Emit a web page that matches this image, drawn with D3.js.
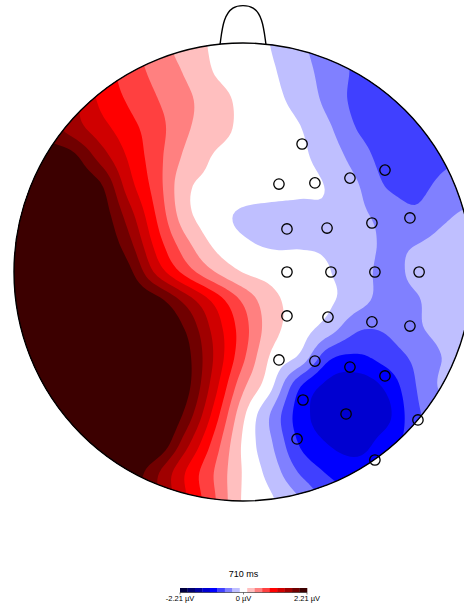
<!DOCTYPE html>
<html>
<head>
<meta charset="utf-8">
<script src="https://cdn.jsdelivr.net/npm/d3@7"></script>
<style>
  body { margin: 0; background: #fff; }
  text { font-family: "Liberation Sans", Arial, sans-serif; fill: #000; }
</style>
</head>
<body>
<script>
// topomap at 710 ms, values in µV
// grid: 17 x 17 points over the head square, rows top -> bottom, cols left -> right
var gridValues = [
  [2.21, 1.92, 1.44, 1.05, 0.75, 0.50, 0.27, 0.09, -0.02, -0.14, -0.35, -0.52, -0.70, -0.78, -0.78, -0.73, -0.65],
  [2.24, 1.96, 1.44, 1.08, 0.79, 0.57, 0.36, 0.12, 0.01, -0.10, -0.29, -0.50, -0.70, -0.81, -0.83, -0.78, -0.68],
  [2.29, 1.98, 1.53, 1.13, 0.88, 0.66, 0.45, 0.24, 0.07, -0.06, -0.22, -0.47, -0.73, -0.83, -0.86, -0.81, -0.70],
  [2.24, 1.90, 1.59, 1.29, 1.01, 0.75, 0.43, 0.23, 0.08, -0.02, -0.12, -0.35, -0.66, -0.78, -0.87, -0.79, -0.70],
  [2.34, 2.18, 2.05, 1.60, 1.14, 0.74, 0.33, 0.11, 0.04, -0.03, -0.09, -0.24, -0.51, -0.75, -0.83, -0.71, -0.62],
  [2.39, 2.29, 2.18, 2.00, 1.30, 0.77, 0.19, 0.08, 0.03, -0.03, -0.08, -0.15, -0.37, -0.66, -0.73, -0.58, -0.52],
  [2.42, 2.37, 2.29, 2.13, 1.56, 0.87, 0.22, -0.02, -0.17, -0.20, -0.19, -0.16, -0.33, -0.47, -0.60, -0.44, -0.34],
  [2.42, 2.39, 2.34, 2.21, 1.78, 1.05, 0.47, 0.08, -0.09, -0.16, -0.15, -0.16, -0.27, -0.43, -0.40, -0.31, -0.23],
  [2.44, 2.42, 2.37, 2.29, 2.03, 1.35, 0.81, 0.40, 0.12, 0.03, -0.04, -0.12, -0.27, -0.46, -0.34, -0.25, -0.20],
  [2.44, 2.42, 2.39, 2.34, 2.24, 2.05, 1.60, 1.10, 0.61, 0.21, 0.03, -0.09, -0.29, -0.48, -0.42, -0.26, -0.21],
  [2.44, 2.44, 2.42, 2.39, 2.37, 2.29, 1.93, 1.34, 0.77, 0.23, -0.01, -0.27, -0.62, -0.62, -0.44, -0.31, -0.23],
  [2.44, 2.44, 2.44, 2.42, 2.39, 2.34, 2.05, 1.40, 0.70, 0.08, -0.20, -0.86, -0.96, -0.81, -0.60, -0.38, -0.29],
  [2.44, 2.44, 2.44, 2.44, 2.42, 2.37, 2.05, 1.28, 0.45, -0.09, -0.90, -1.25, -1.33, -1.12, -0.67, -0.34, -0.26],
  [2.44, 2.44, 2.44, 2.44, 2.42, 2.37, 1.87, 1.06, 0.19, -0.43, -1.05, -1.30, -1.38, -1.25, -0.73, -0.47, -0.31],
  [2.44, 2.42, 2.39, 2.34, 2.31, 2.21, 1.53, 0.81, 0.09, -0.37, -0.94, -1.18, -1.27, -1.04, -0.78, -0.52, -0.36],
  [2.34, 2.34, 2.34, 2.31, 2.16, 1.73, 1.16, 0.64, 0.11, -0.24, -0.68, -0.94, -1.04, -0.94, -0.73, -0.52, -0.36],
  [2.29, 2.29, 2.29, 2.24, 2.08, 1.72, 1.20, 0.68, 0.10, -0.10, -0.38, -0.75, -0.88, -0.83, -0.68, -0.52, -0.38]
];

// electrode positions in head units (-1..1, y up)
var electrodeX = [0.258, 0.157, 0.314, 0.467, 0.620, 0.192, 0.367, 0.563, 0.729,
                  0.192, 0.384, 0.576, 0.769, 0.192, 0.371, 0.563, 0.729,
                  0.157, 0.314, 0.467, 0.620, 0.262, 0.450, 0.236, 0.764, 0.576];
var electrodeY = [0.559, 0.384, 0.389, 0.410, 0.445, 0.188, 0.192, 0.214, 0.236,
                  0, 0, 0, 0, -0.192, -0.197, -0.218, -0.236,
                  -0.384, -0.389, -0.415, -0.454, -0.559, -0.620, -0.729, -0.646, -0.821];

var levels = [-1.95, -1.69, -1.43, -1.17, -0.91, -0.65, -0.39, -0.13,
              0.13, 0.39, 0.65, 0.91, 1.17, 1.43, 1.69, 1.95];
var bandColors = ['#00003e', '#000070', '#0000a0', '#0000d0', '#0000ff', '#4040ff', '#8080ff', '#bfbfff',
                  '#ffffff',
                  '#ffbfbf', '#ff8080', '#ff4040', '#ff0000', '#d00000', '#a00000', '#700000', '#3c0000'];
var vRange = [-2.21, 2.21];
var tickValues = [-2.21, 0, 2.21];
var tickLabels = ["-2.21 µV", "0 µV", "2.21 µV"];
var title = "710 ms";

var width = 464, height = 605;
var head = {cx: 243, cy: 272, r: 229};

var svg = d3.select("body").append("svg")
    .attr("width", width)
    .attr("height", height);

var xScale = d3.scaleLinear().domain([-1, 1]).range([head.cx - head.r, head.cx + head.r]);
var yScale = d3.scaleLinear().domain([-1, 1]).range([head.cy + head.r, head.cy - head.r]);

// smooth the coarse grid (catmull-rom) so the contours come out round
var n = gridValues.length;
var sub = 8;
var m = (n - 1) * sub + 1;

function cr(p0, p1, p2, p3, t) {
  return 0.5 * (2 * p1 + (-p0 + p2) * t + (2 * p0 - 5 * p1 + 4 * p2 - p3) * t * t +
         (-p0 + 3 * p1 - 3 * p2 + p3) * t * t * t);
}
function g(i, j) {
  i = Math.max(0, Math.min(n - 1, i));
  j = Math.max(0, Math.min(n - 1, j));
  return gridValues[j][i];
}
function sample(gx, gy) {
  var i = Math.min(n - 2, Math.floor(gx)), j = Math.min(n - 2, Math.floor(gy));
  var tx = gx - i, ty = gy - j;
  var rows = [-1, 0, 1, 2].map(function(dj) {
    return cr(g(i - 1, j + dj), g(i, j + dj), g(i + 1, j + dj), g(i + 2, j + dj), tx);
  });
  return cr(rows[0], rows[1], rows[2], rows[3], ty);
}

var fine = new Array(m * m);
for (var y = 0; y < m; y++) {
  for (var x = 0; x < m; x++) {
    fine[y * m + x] = sample(x / sub, y / sub);
  }
}

var contours = d3.contours().size([m, m]).thresholds(levels)(fine);

var transform = d3.geoTransform({
  point: function(x, y) {
    this.stream.point(xScale(-1 + 2 * (x - 0.5) / (m - 1)), yScale(1 - 2 * (y - 0.5) / (m - 1)));
  }
});
var path = d3.geoPath(transform);

svg.append("clipPath")
    .attr("id", "headClip")
  .append("circle")
    .attr("cx", head.cx)
    .attr("cy", head.cy)
    .attr("r", head.r);

var map = svg.append("g").attr("clip-path", "url(#headClip)");

map.append("circle")
    .attr("cx", head.cx)
    .attr("cy", head.cy)
    .attr("r", head.r)
    .attr("fill", bandColors[0]);

map.selectAll("path")
    .data(contours)
  .enter().append("path")
    .attr("d", path)
    .attr("fill", function(d, i) { return bandColors[i + 1]; });

// head outline and nose
svg.append("circle")
    .attr("cx", head.cx)
    .attr("cy", head.cy)
    .attr("r", head.r)
    .attr("fill", "none")
    .attr("stroke", "#000")
    .attr("stroke-width", 1.4);

var noseLine = d3.line().curve(d3.curveBasis);
svg.append("path")
    .attr("d", noseLine([[xScale(-0.1), yScale(0.995)], [xScale(-0.085), yScale(1.11)],
                         [xScale(-0.045), yScale(1.16)], [xScale(0), yScale(1.165)],
                         [xScale(0.045), yScale(1.16)], [xScale(0.085), yScale(1.11)],
                         [xScale(0.1), yScale(0.995)]]))
    .attr("fill", "none")
    .attr("stroke", "#000")
    .attr("stroke-width", 1.4);

// electrodes
svg.selectAll(".electrode")
    .data(electrodeX)
  .enter().append("circle")
    .attr("class", "electrode")
    .attr("cx", function(d) { return xScale(d); })
    .attr("cy", function(d, i) { return yScale(electrodeY[i]); })
    .attr("r", 5.2)
    .attr("fill", "none")
    .attr("stroke", "#000")
    .attr("stroke-width", 1.3);

// colorbar
var cbScale = d3.scaleLinear().domain(vRange).range([180, 307]);
var edges = [vRange[0]].concat(levels, [vRange[1]]);
var cb = svg.append("g").attr("class", "colorbar");

cb.selectAll("rect")
    .data(bandColors)
  .enter().append("rect")
    .attr("x", function(d, i) { return cbScale(edges[i]); })
    .attr("y", 588)
    .attr("width", function(d, i) { return cbScale(edges[i + 1]) - cbScale(edges[i]) + 0.3; })
    .attr("height", 4.5)
    .attr("fill", function(d) { return d; });

cb.append("line")
    .attr("x1", cbScale(vRange[0]))
    .attr("x2", cbScale(vRange[1]))
    .attr("y1", 592.5)
    .attr("y2", 592.5)
    .attr("stroke", "#222")
    .attr("stroke-width", 0.6);

cb.selectAll(".tick")
    .data(tickValues)
  .enter().append("line")
    .attr("class", "tick")
    .attr("x1", function(d) { return cbScale(d); })
    .attr("x2", function(d) { return cbScale(d); })
    .attr("y1", 592.5)
    .attr("y2", 594.5)
    .attr("stroke", "#222")
    .attr("stroke-width", 0.6);

cb.selectAll(".label")
    .data(tickValues)
  .enter().append("text")
    .attr("class", "label")
    .attr("x", function(d) { return cbScale(d); })
    .attr("y", 601)
    .attr("text-anchor", "middle")
    .style("font-size", "7.5px")
    .text(function(d, i) { return tickLabels[i]; });

svg.append("text")
    .attr("x", cbScale(0))
    .attr("y", 577)
    .attr("text-anchor", "middle")
    .style("font-size", "9px")
    .text(title);
</script>
</body>
</html>
